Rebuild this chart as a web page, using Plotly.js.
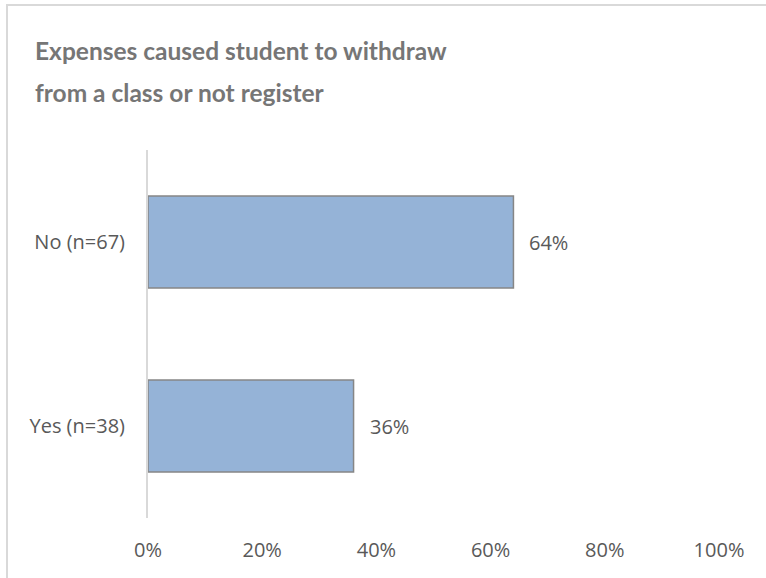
<!DOCTYPE html>
<html>
<head>
<meta charset="utf-8">
<script src="https://cdn.plot.ly/plotly-3.0.1.min.js"></script>
<style>
  html, body { margin: 0; padding: 0; background: #ffffff; }
  #wrap { position: relative; width: 766px; height: 578px; overflow: hidden; }
  #chart { width: 766px; height: 578px; }
  #frame { position: absolute; left: 6px; top: 4px; width: 900px; height: 700px;
           border-top: 2px solid #d9d9d9; border-left: 2px solid #d9d9d9;
           pointer-events: none; z-index: 5; }
</style>
</head>
<body>
<div id="wrap">
  <div id="chart"></div>
  <div id="frame"></div>
</div>
<script>
const titleLines = ["Expenses caused student to withdraw", "from a class or not register"];
const categories = ["No (n=67)", "Yes (n=38)"];
const values = [0.64, 0.36];
const valueLabels = ["64%", "36%"];
const xTickValues = [0, 0.2, 0.4, 0.6, 0.8, 1.0];
const xTickLabels = ["0%", "20%", "40%", "60%", "80%", "100%"];

const W = 766, H = 578;
const M = { l: 148, r: 47, t: 150, b: 60 };
const plotW = W - M.l - M.r, plotH = H - M.t - M.b;

const labelFont = { family: "'Open Sans', 'Noto Sans', sans-serif", size: 20, color: "#595959" };
const titleFont = { family: "Lato, 'Open Sans', sans-serif", size: 24.5, color: "#767676", weight: "bold" };

const trace = {
  type: "bar",
  orientation: "h",
  x: values,
  y: categories,
  marker: { color: "#95b3d7", line: { color: "#868686", width: 1.5 } },
  hoverinfo: "skip"
};

const annotations = values.map((v, i) => ({
  x: v, y: categories[i], xref: "x", yref: "y",
  text: valueLabels[i], showarrow: false,
  xanchor: "left", yanchor: "middle", xshift: 14,
  font: labelFont
}));

// second title line (kept separate to reproduce the wider line spacing)
annotations.push({
  x: (35 - M.l) / plotW, y: (H - M.b - 93) / plotH, xref: "paper", yref: "paper",
  xshift: -2,
  text: titleLines[1], showarrow: false,
  xanchor: "left", yanchor: "middle", font: titleFont
});

const layout = {
  width: W, height: H,
  margin: M,
  paper_bgcolor: "#ffffff", plot_bgcolor: "#ffffff",
  showlegend: false,
  bargap: 0.5,
  title: {
    text: titleLines[0],
    x: 35 / W, xref: "container", xanchor: "left",
    font: titleFont,
    y: 1 - 51 / H, yref: "container", yanchor: "middle"
  },
  xaxis: {
    range: [0, 1], tickvals: xTickValues, ticktext: xTickLabels,
    showgrid: false, zeroline: false, showline: false, ticks: "",
    tickfont: labelFont, ticklabelstandoff: 18, fixedrange: true
  },
  yaxis: {
    type: "category", autorange: "reversed",
    showgrid: false, zeroline: false, showline: true, linecolor: "#d9d9d9", linewidth: 2,
    ticks: "", tickfont: labelFont, ticklabelstandoff: 17, fixedrange: true
  },
  annotations: annotations
};

Plotly.newPlot("chart", [trace], layout, { displayModeBar: false, staticPlot: true });
</script>
</body>
</html>
